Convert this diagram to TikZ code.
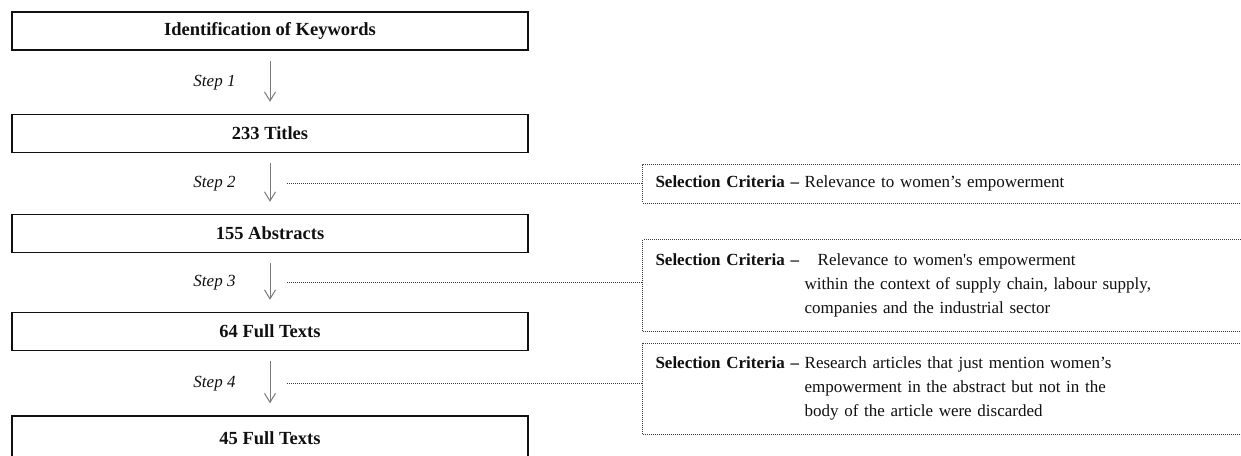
\documentclass[tikz,border=0pt]{standalone}
\usepackage{fontspec}
\setmainfont{Liberation Serif}
\usetikzlibrary{arrows.meta}
\newcommand{\BoxWidth}{516pt}
\newcommand{\BoxHeight}{38pt}
\newcommand{\Edge}{1.4pt}
\definecolor{ink}{HTML}{101010}
\definecolor{arrowgrey}{HTML}{7A7A7A}
\definecolor{dots}{HTML}{3A3A3A}

\tikzset{
  stage/.style={draw=ink, line width=\Edge, minimum width=\BoxWidth,
    minimum height=\BoxHeight, inner sep=0pt, text=ink,
    font=\fontsize{18.5}{22}\selectfont\bfseries},
  steparrow/.style={arrowgrey, line width=1pt,
    -{Straight Barb[length=9pt,width=11pt]}, shorten <=10pt, shorten >=12pt},
  steplabel/.style={left=34pt, inner sep=0pt, text=ink,
    font=\fontsize{17}{20}\selectfont\itshape},
  criteria/.style={draw=dots, densely dotted, line width=1pt, anchor=north west,
    text width=590pt, align=left, inner xsep=13pt, inner ysep=0pt, text=ink,
    font=\fontsize{17}{23.8}\selectfont},
  leader/.style={dots, densely dotted, line width=1pt}
}

\begin{document}
\begin{tikzpicture}[x=1pt, y=-1pt, line cap=butt]

  \useasboundingbox (0,0) rectangle (1241,455);
  \clip (0,0) rectangle (1241,455);

  % ---- the stages of the review -------------------------------------------
  \node[stage] (keywords)   at (270,31)    {Identification of Keywords};
  \node[stage] (titles)     at (270,133.5) {233 Titles};
  \node[stage] (abstracts)  at (270,233.5) {155 Abstracts};
  \node[stage] (fulltexts)  at (270,331.5) {64 Full Texts};
  \node[stage, minimum height=44pt] (finaltexts) at (270,438) {45 Full Texts};  % runs off the page

  % ---- selection criteria, open to the right ------------------------------
  \node[criteria, minimum height=39pt] (critA) at (642,163.5)
    {\textbf{Selection Criteria –} Relevance to women’s empowerment};
  \node[criteria, text height=26pt, text depth=66pt] (critB) at (642,239)
    {\textbf{Selection Criteria –}\ \begin{tabular}[t]{@{}l@{}}
      \hspace{13pt}Relevance to women\textquotesingle s empowerment\\
      within the context of supply chain, labour supply,\\
      companies and the industrial sector\end{tabular}};
  \node[criteria, text height=25pt, text depth=66pt] (critC) at (642,343)
    {\textbf{Selection Criteria –} \begin{tabular}[t]{@{}l@{}}
      Research articles that just mention women’s\\
      empowerment in the abstract but not in the\\
      body of the article were discarded\end{tabular}};

  % ---- steps --------------------------------------------------------------
  \draw[steparrow] (keywords) -- (titles) node[midway, steplabel] {Step 1};
  \draw[steparrow] (titles) -- (abstracts) node[midway, steplabel] {Step 2}
    coordinate[midway, xshift=17pt] (d2);
  \draw[steparrow] (abstracts) -- (fulltexts) node[midway, steplabel] {Step 3}
    coordinate[midway, xshift=17pt] (d3);
  \draw[steparrow] (fulltexts) -- (finaltexts) node[midway, steplabel] {Step 4}
    coordinate[midway, xshift=17pt] (d4);

  % Dotted leaders from each step to its criteria.
  \draw[leader] (d2) -- (d2 -| critA.west);
  \draw[leader] (d3) -- (d3 -| critB.west);
  \draw[leader] (d4) -- (d4 -| critC.west);

\end{tikzpicture}
\end{document}
